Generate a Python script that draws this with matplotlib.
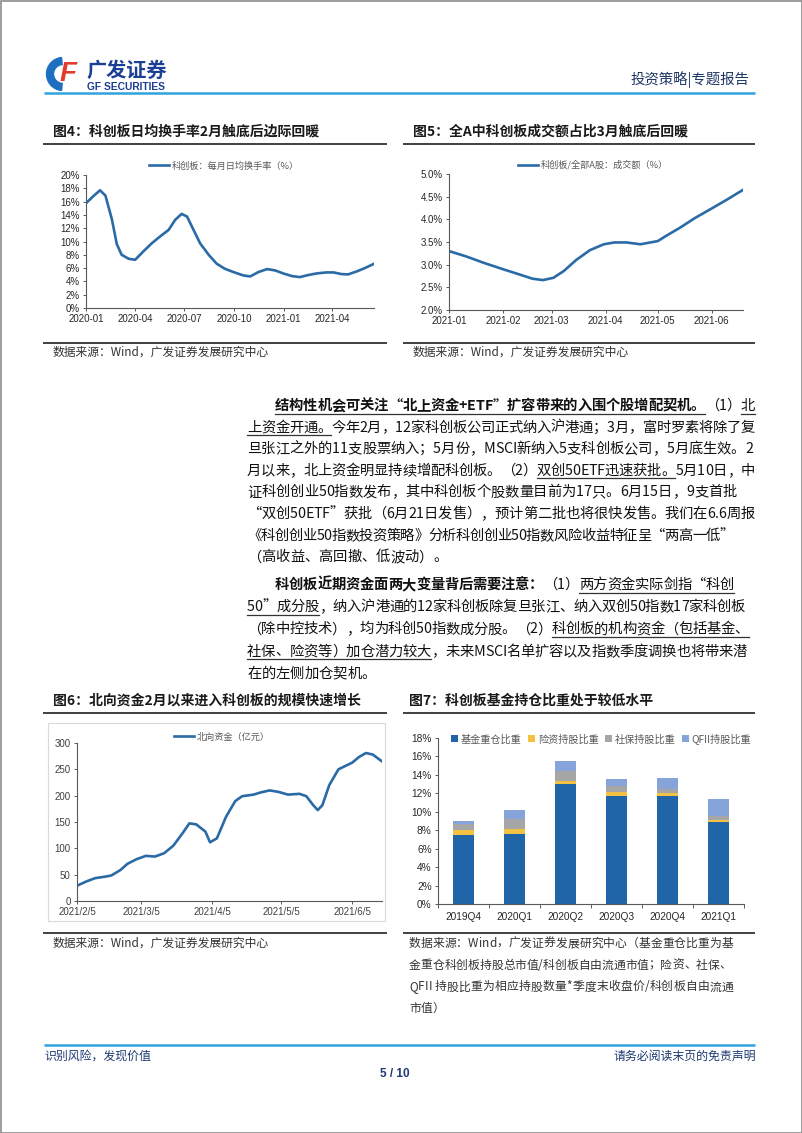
import numpy as np
import pandas as pd
import matplotlib
matplotlib.use("Agg")
import matplotlib.pyplot as plt
from matplotlib import font_manager, ft2font
from matplotlib.patches import Rectangle, Wedge
from matplotlib.ticker import FuncFormatter, MultipleLocator, FixedLocator

W, H = 802, 1133
CJK = "Noto Sans CJK SC"
LAT = "Liberation Sans"
plt.rcParams["font.family"] = [CJK, "DejaVu Sans"]

LINE = "#2a6aa6"
NAVY = "#1f3a70"
SKY = "#2ea3dc"

# ---- chart data ----
turnover_dates = ["2020-01-01", "2020-01-15", "2020-01-27", "2020-02-06", "2020-02-18", "2020-02-27",
                  "2020-03-07", "2020-03-20", "2020-04-01", "2020-04-16", "2020-05-02", "2020-05-17",
                  "2020-06-02", "2020-06-14", "2020-06-26", "2020-07-06", "2020-07-18", "2020-07-30",
                  "2020-08-15", "2020-08-30", "2020-09-14", "2020-09-30", "2020-10-18", "2020-10-31",
                  "2020-11-15", "2020-12-01", "2020-12-16", "2020-12-31", "2021-01-16", "2021-01-31",
                  "2021-02-15", "2021-03-03", "2021-03-21", "2021-04-03", "2021-04-18", "2021-04-30",
                  "2021-05-16", "2021-05-31", "2021-06-17"]
turnover = [15.75, 16.85, 17.7, 16.9, 13.3, 9.6, 8.0, 7.4, 7.25, 8.5, 9.75, 10.75,
            11.75, 13.25, 14.15, 13.75, 11.75, 9.75, 8.0, 6.65, 5.9, 5.4, 4.9, 4.75,
            5.4, 5.85, 5.65, 5.2, 4.8, 4.65, 4.95, 5.2, 5.35, 5.35, 5.1, 5.05,
            5.5, 6.0, 6.65]
turnover_ticks = ["2020-01-01", "2020-04-01", "2020-07-01", "2020-10-01", "2021-01-01", "2021-04-01"]

share_dates = ["2021-01-01", "2021-01-11", "2021-01-21", "2021-02-01", "2021-02-10", "2021-02-18",
               "2021-02-24", "2021-03-02", "2021-03-08", "2021-03-15", "2021-03-23", "2021-03-31",
               "2021-04-06", "2021-04-13", "2021-04-21", "2021-05-01", "2021-05-06", "2021-05-14",
               "2021-05-22", "2021-06-01", "2021-06-10", "2021-06-19"]
share = [3.30, 3.18, 3.04, 2.90, 2.79, 2.69, 2.66, 2.71, 2.86, 3.10, 3.32, 3.45,
         3.49, 3.49, 3.45, 3.52, 3.64, 3.82, 4.02, 4.24, 4.44, 4.65]
share_ticks = ["2021-01-01", "2021-02-01", "2021-03-01", "2021-04-01", "2021-05-01", "2021-06-01"]

north_dates = ["2021-02-05", "2021-02-09", "2021-02-13", "2021-02-17", "2021-02-20", "2021-02-24",
               "2021-02-27", "2021-03-03", "2021-03-07", "2021-03-11", "2021-03-15", "2021-03-19",
               "2021-03-23", "2021-03-26", "2021-03-29", "2021-04-02", "2021-04-04", "2021-04-07",
               "2021-04-11", "2021-04-15", "2021-04-18", "2021-04-23", "2021-04-26", "2021-04-30",
               "2021-05-04", "2021-05-08", "2021-05-13", "2021-05-16", "2021-05-19", "2021-05-21",
               "2021-05-23", "2021-05-26", "2021-05-30", "2021-06-05", "2021-06-08", "2021-06-11",
               "2021-06-14", "2021-06-18"]
north = [29, 37, 43.5, 46, 48.5, 59, 70.6, 79.4, 85.7, 84.4, 90.7, 105,
         128.5, 147.4, 145.5, 131.7, 111.5, 119, 160, 189.7, 199, 202, 206, 210,
         207, 202, 203.5, 199, 182, 172.6, 182, 220, 250, 262.7, 273.5, 281,
         278, 265]
north_ticks = ["2021-02-05", "2021-03-05", "2021-04-05", "2021-05-05", "2021-06-05"]
north_tick_labels = ["2021/2/5", "2021/3/5", "2021/4/5", "2021/5/5", "2021/6/5"]

quarters = ["2019Q4", "2020Q1", "2020Q2", "2020Q3", "2020Q4", "2021Q1"]
fund = [7.5, 7.6, 13.0, 11.67, 11.67, 8.88]
insur = [0.54, 0.55, 0.37, 0.43, 0.36, 0.18]
social = [0.62, 1.05, 1.0, 0.65, 0.47, 0.51]
qfii = [0.29, 1.0, 1.09, 0.8, 1.2, 1.77]
stack_labels = ["基金重仓比重", "险资持股比重", "社保持股比重", "QFII持股比重"]
stack_colors = ["#1f65a8", "#f4c242", "#a6a6a6", "#86a3da"]

# ---- body text ----
para1 = [
    [("结构性机会可关注“北上资金+ETF”扩容带来的入围个股增配契机。", "bu"), ("（1）", "n"), ("北", "u")],
    [("上资金开通。", "u"), ("今年2月，12家科创板公司正式纳入沪港通；3月，富时罗素将除了复", "n")],
    [("旦张江之外的11支股票纳入；5月份，MSCI新纳入5支科创板公司，5月底生效。2", "n")],
    [("月以来，北上资金明显持续增配科创板。（2）", "n"), ("双创50ETF迅速获批。", "u"), ("5月10日，中", "n")],
    [("证科创创业50指数发布，其中科创板个股数量目前为17只。6月15日，9支首批", "n")],
    [("“双创50ETF”获批（6月21日发售），预计第二批也将很快发售。我们在6.6周报", "n")],
    [("《科创创业50指数投资策略》分析科创创业50指数风险收益特征呈“两高一低”", "n")],
    [("（高收益、高回撤、低波动）。", "n")],
]
para1_ends = [755, 755, 753, 755, 737, 755, 734, None]
para2 = [
    [("科创板近期资金面两大变量背后需要注意：", "b"), ("（1）", "n"), ("两方资金实际剑指“科创", "u")],
    [("50”成分股", "u"), ("，纳入沪港通的12家科创板除复旦张江、纳入双创50指数17家科创板", "n")],
    [("（除中控技术），均为科创50指数成分股。（2）", "n"), ("科创板的机构资金（包括基金、", "u")],
    [("社保、险资等）加仓潜力较大", "u"), ("，未来MSCI名单扩容以及指数季度调换也将带来潜", "n")],
    [("在的左侧加仓契机。", "n")],
]
para2_ends = [734, 745, 749, 747, None]
note7 = [
    [("数据来源：Wind，广发证券发展研究中心（基金重仓比重为基", "n")],
    [("金重仓科创板持股总市值/科创板自由流通市值；险资、社保、", "n")],
    [("QFII 持股比重为相应持股数量*季度末收盘价/科创板自由流通", "n")],
    [("市值）", "n")],
]
note7_ends = [733, 731, 733, None]

fig = plt.figure(figsize=(W / 100, H / 100), dpi=100)
pg = fig.add_axes([0, 0, 1, 1])
pg.set_xlim(0, W)
pg.set_ylim(H, 0)
pg.axis("off")

reg_font = ft2font.FT2Font(font_manager.findfont(font_manager.FontProperties(family=CJK)))
bold_font = ft2font.FT2Font(font_manager.findfont(font_manager.FontProperties(family=CJK, weight="bold")))


def rich_line(x0, y, segs, x1=None, size=10.3, color="#111111"):
    chars = [(ch, st) for text, st in segs for ch in text]
    widths = []
    for ch, st in chars:
        f = bold_font if "b" in st else reg_font
        f.set_size(size, 100)
        widths.append(f.load_char(ord(ch)).linearHoriAdvance / 65536)
    extra = 0 if x1 is None else (x1 - x0 - sum(widths)) / max(len(chars) - 1, 1)
    x = x0
    ul = None
    spans = []
    for (ch, st), w in zip(chars, widths):
        pg.text(x, y, ch, fontsize=size, fontweight="bold" if "b" in st else "normal",
                color=color, ha="left", va="baseline")
        if "u" in st:
            if ul is None:
                ul = [x, x + w]
            else:
                ul[1] = x + w
        elif ul is not None:
            spans.append(ul)
            ul = None
        x += w + extra
    if ul is not None:
        spans.append(ul)
    for a, b in spans:
        pg.plot([a, b], [y + 3.5, y + 3.5], color="#333333", lw=0.9)


def px_axes(x0, y0, x1, y1):
    return fig.add_axes([x0 / W, 1 - y1 / H, (x1 - x0) / W, (y1 - y0) / H])


def style_axes(ax, size=7):
    for s in ("top", "right"):
        ax.spines[s].set_visible(False)
    for s in ("left", "bottom"):
        ax.spines[s].set_color("#595959")
        ax.spines[s].set_linewidth(0.8)
    ax.tick_params(direction="out", length=2.5, width=0.7, color="#595959", labelsize=size,
                   labelcolor="#262626", pad=2, labelfontfamily=LAT)
    ax.patch.set_alpha(0)


def legend_at(ax, cx, cy, size=6.6, **kw):
    leg = ax.legend(loc="center", bbox_to_anchor=(cx / W, 1 - cy / H), bbox_transform=fig.transFigure,
                    frameon=False, fontsize=size, borderaxespad=0, **kw)
    for t in leg.get_texts():
        t.set_color("#595959")


def rule(x0, x1, y, color="#404040", lw=1.4):
    pg.plot([x0, x1], [y, y], color=color, lw=lw, solid_capstyle="butt")


# ---- page frame, header, footer ----
pg.add_patch(Rectangle((0.5, 0.5), W - 1, H - 1, fill=False, ec="#8c8c8c", lw=1.2))
pg.add_patch(Wedge((63, 74), 16.5, 95, 265, width=7, color="#1f6fc0"))
pg.text(68, 74, "F", fontsize=20, fontweight="bold", style="italic", color="#e23b2e",
        ha="center", va="center", family=LAT)
pg.text(86, 70, "广发证券", fontsize=14.5, fontweight="bold", color="#1b3f95", ha="left", va="center")
pg.text(87, 87, "GF SECURITIES", fontsize=7.4, fontweight="bold", color="#1b3f95", ha="left",
        va="center", family=LAT)
pg.text(749, 80, "投资策略|专题报告", fontsize=10.4, color="#1f3864", ha="right", va="center")
rule(44, 755, 93, color=SKY, lw=1.8)

rule(44, 755, 1045, color=SKY, lw=1.8)
pg.text(44, 1056, "识别风险，发现价值", fontsize=8.6, color=NAVY, ha="left", va="center")
pg.text(756, 1056, "请务必阅读末页的免责声明", fontsize=8.6, color=NAVY, ha="right", va="center")
pg.text(395, 1074, "5 / 10", fontsize=8.5, fontweight="bold", color=NAVY, ha="center", va="center",
        family=LAT)

# ---- titles, rules, sources ----
pg.text(53, 131, "图4：科创板日均换手率2月触底后边际回暖", fontsize=10, fontweight="bold", va="center", color="#1a1a1a")
pg.text(413, 131, "图5：全A中科创板成交额占比3月触底后回暖", fontsize=10, fontweight="bold", va="center", color="#1a1a1a")
pg.text(53, 701, "图6：北向资金2月以来进入科创板的规模快速增长", fontsize=10, fontweight="bold", va="center", color="#1a1a1a")
pg.text(409, 701, "图7：科创板基金持仓比重处于较低水平", fontsize=10, fontweight="bold", va="center", color="#1a1a1a")
for x0, x1, ys in [(43, 387, (144, 343)), (403, 755, (144, 343)), (43, 387, (713, 933)), (403, 755, (713, 933))]:
    for yy in ys:
        rule(x0, x1, yy)

src = "数据来源：Wind，广发证券发展研究中心"
pg.text(53, 352, src, fontsize=8.5, color="#333333", va="center")
pg.text(413, 352, src, fontsize=8.5, color="#333333", va="center")
pg.text(53, 943, src, fontsize=8.5, color="#333333", va="center")
for i, segs in enumerate(note7):
    rich_line(409, 943 + 21.7 * i + 4, segs, note7_ends[i], size=8.5, color="#333333")

# ---- body paragraphs ----
for i, segs in enumerate(para1):
    rich_line(275 if i == 0 else 247, 405 + 21.6 * i + 5, segs, para1_ends[i])
for i, segs in enumerate(para2):
    rich_line(275 if i == 0 else 247, 584 + 22.2 * i + 5, segs, para2_ends[i])

# ---- chart 4 ----
ax4 = px_axes(86, 175, 374, 308)
ax4.plot(pd.to_datetime(turnover_dates), turnover, color=LINE, lw=1.9, label="科创板：每月日均换手率（%）")
ax4.set_xlim(pd.Timestamp(turnover_dates[0]), pd.Timestamp(turnover_dates[-1]))
ax4.set_ylim(0, 20)
ax4.yaxis.set_major_locator(MultipleLocator(2))
ax4.yaxis.set_major_formatter(FuncFormatter(lambda v, p: f"{v:.0f}%"))
ax4.set_xticks(pd.to_datetime(turnover_ticks))
ax4.set_xticklabels([t[:7] for t in turnover_ticks])
style_axes(ax4)
legend_at(ax4, 224, 166, handlelength=2.2, handletextpad=0.3)

# ---- chart 5 ----
ax5 = px_axes(449, 174, 743, 310)
ax5.plot(pd.to_datetime(share_dates), share, color=LINE, lw=1.9, label="科创板/全部A股：成交额（%）")
ax5.set_xlim(pd.Timestamp(share_dates[0]), pd.Timestamp(share_dates[-1]))
ax5.set_ylim(2.0, 5.0)
ax5.yaxis.set_major_locator(MultipleLocator(0.5))
ax5.yaxis.set_major_formatter(FuncFormatter(lambda v, p: f"{v:.1f}%"))
ax5.set_xticks(pd.to_datetime(share_ticks))
ax5.set_xticklabels([t[:7] for t in share_ticks])
style_axes(ax5)
legend_at(ax5, 593, 165, handlelength=2.2, handletextpad=0.3)

# ---- chart 6 ----
pg.add_patch(Rectangle((48, 723), 337, 198, fill=False, ec="#d9d9d9", lw=0.8))
ax6 = px_axes(77, 743, 382, 901)
ax6.plot(pd.to_datetime(north_dates), north, color=LINE, lw=1.9, label="北向资金（亿元）")
ax6.set_xlim(pd.Timestamp(north_dates[0]), pd.Timestamp(north_dates[-1]))
ax6.set_ylim(0, 300)
ax6.yaxis.set_major_locator(MultipleLocator(50))
ax6.set_xticks(pd.to_datetime(north_ticks))
ax6.set_xticklabels(north_tick_labels)
style_axes(ax6)
ax6.tick_params(labelcolor="#404040")
legend_at(ax6, 222, 737, handlelength=2.2, handletextpad=0.3)

# ---- chart 7 ----
ax7 = px_axes(438, 738, 744, 904)
x = np.arange(len(quarters))
bottom = np.zeros(len(quarters))
for vals, lab, col in zip([fund, insur, social, qfii], stack_labels, stack_colors):
    ax7.bar(x, vals, width=0.4, bottom=bottom, color=col, label=lab)
    bottom += np.array(vals)
ax7.set_xlim(-0.5, len(quarters) - 0.5)
ax7.set_ylim(0, 18)
ax7.yaxis.set_major_locator(MultipleLocator(2))
ax7.yaxis.set_major_formatter(FuncFormatter(lambda v, p: f"{v:.0f}%"))
ax7.set_xticks(x)
ax7.set_xticklabels(quarters)
style_axes(ax7, size=7.3)
ax7.tick_params(axis="x", which="major", length=0, pad=6)
ax7.xaxis.set_minor_locator(FixedLocator(np.arange(-0.5, len(quarters), 1.0)))
ax7.tick_params(axis="x", which="minor", direction="out", length=3, width=0.7, color="#595959")
legend_at(ax7, 601, 739, size=7.3, ncol=4, handlelength=0.7, handleheight=0.7,
          handletextpad=0.3, columnspacing=0.6)

fig.savefig("out.png", dpi=100)
